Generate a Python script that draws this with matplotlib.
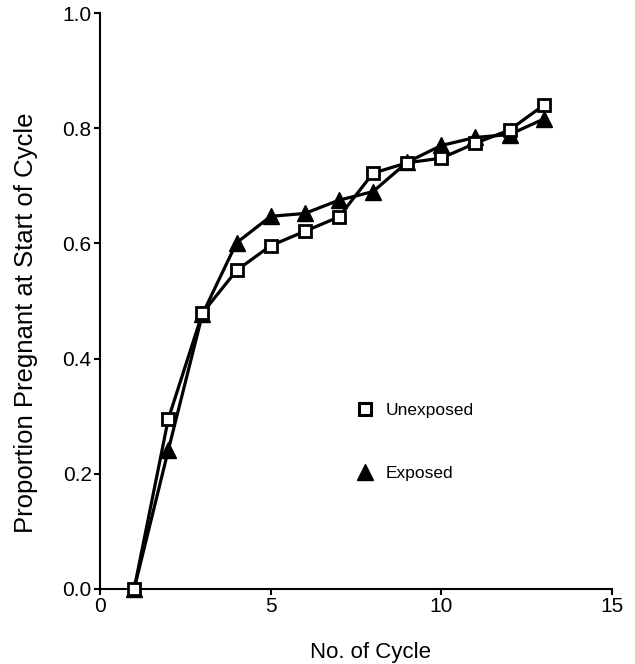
import matplotlib
matplotlib.use("Agg")
import matplotlib.pyplot as plt
from matplotlib.lines import Line2D

plt.rcParams['font.family'] = ['Liberation Sans', 'DejaVu Sans']

cycles = [1, 2, 3, 4, 5, 6, 7, 8, 9, 10, 11, 12, 13]
unexposed = [0.0, 0.295, 0.479, 0.553, 0.596, 0.621, 0.646, 0.722, 0.740, 0.748, 0.774, 0.797, 0.840]
exposed = [0.0, 0.241, 0.477, 0.601, 0.647, 0.652, 0.675, 0.690, 0.741, 0.770, 0.784, 0.789, 0.816]

fig = plt.figure(figsize=(6.35, 6.64), dpi=100)
ax = fig.add_axes([0.1575, 0.113, 0.8063, 0.8674])

ax.plot(cycles, exposed, color="black", lw=2.3, marker="^", ms=11,
        mfc="black", mec="black", clip_on=False, zorder=3)
ax.plot(cycles, unexposed, color="black", lw=2.3, marker="s", ms=9,
        mfc="white", mec="black", mew=2.0, clip_on=False, zorder=4)

ax.set_xlim(0, 15)
ax.set_ylim(0, 1.0)
ax.set_xticks([0, 5, 10, 15])
ax.set_yticks([0.0, 0.2, 0.4, 0.6, 0.8, 1.0])
ax.set_yticklabels(["0.0", "0.2", "0.4", "0.6", "0.8", "1.0"])

for s in ["top", "right"]:
    ax.spines[s].set_visible(False)
for s in ["left", "bottom"]:
    ax.spines[s].set_linewidth(1.5)
ax.tick_params(direction="out", length=4.5, width=1.5, labelsize=15, pad=1.5)

ax.set_xlabel("No. of Cycle", fontsize=16)
ax.set_ylabel("Proportion Pregnant at Start of Cycle", fontsize=18.5)
ax.xaxis.set_label_coords(0.529, -0.092)
ax.yaxis.set_label_coords(-0.122, 0.463)

handles = [
    Line2D([], [], ls="none", marker="s", ms=8, mfc="white", mec="black", mew=2.2),
    Line2D([], [], ls="none", marker="^", ms=11, mfc="black", mec="black"),
]
ax.legend(handles, ["Unexposed", "Exposed"], frameon=False, fontsize=12.5,
          loc="center left", bbox_to_anchor=(0.47, 0.255), labelspacing=2.75,
          handlelength=1.0, handletextpad=0.7)

fig.savefig("out.png", dpi=100)
